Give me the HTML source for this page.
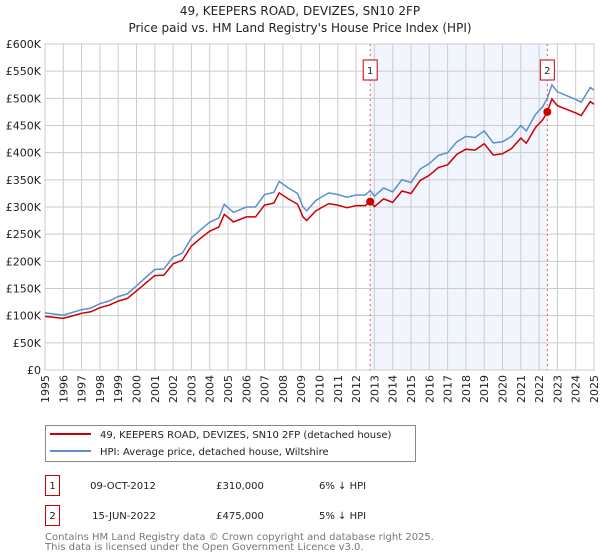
<!DOCTYPE html>
<html><head><meta charset="utf-8"><style>
body{margin:0;background:#fff;width:600px;height:560px;overflow:hidden;font-family:"DejaVu Sans","Liberation Sans",sans-serif}
svg{display:block}
</style></head><body>
<svg id="c" width="600" height="560" xmlns="http://www.w3.org/2000/svg" font-family="DejaVu Sans, Liberation Sans, sans-serif">
<text x="300" y="15" text-anchor="middle" font-size="12" fill="#222">49, KEEPERS ROAD, DEVIZES, SN10 2FP</text>
<text x="300" y="32" text-anchor="middle" font-size="12" fill="#222">Price paid vs. HM Land Registry's House Price Index (HPI)</text>
<g id="grid"></g><g id="series"></g><g id="axes"></g>
<g>
<rect x="45.5" y="425.5" width="370" height="36" fill="#fff" stroke="#888"/>
<line x1="50" y1="434" x2="91" y2="434" stroke="#cc0000" stroke-width="2"/>
<text x="100" y="438" font-size="10" fill="#222">49, KEEPERS ROAD, DEVIZES, SN10 2FP (detached house)</text>
<line x1="50" y1="451" x2="91" y2="451" stroke="#5b8fd0" stroke-width="2"/>
<text x="100" y="455" font-size="10" fill="#222">HPI: Average price, detached house, Wiltshire</text>
</g>
<g font-size="10" fill="#222">
<rect x="45.5" y="475.5" width="14" height="20" fill="#fff" stroke="#cc0000"/>
<text x="52.5" y="489" text-anchor="middle">1</text>
<text x="123" y="489" text-anchor="middle">09-OCT-2012</text>
<text x="240" y="489" text-anchor="middle">£310,000</text>
<text x="319" y="489">6% ↓ HPI</text>
<rect x="45.5" y="505.5" width="14" height="20" fill="#fff" stroke="#cc0000"/>
<text x="52.5" y="519" text-anchor="middle">2</text>
<text x="124" y="519" text-anchor="middle">15-JUN-2022</text>
<text x="240" y="519" text-anchor="middle">£475,000</text>
<text x="319" y="519">5% ↓ HPI</text>
</g>
<text x="45" y="540" font-size="10" fill="#777">Contains HM Land Registry data © Crown copyright and database right 2025.</text>
<text x="45" y="550" font-size="10" fill="#777">This data is licensed under the Open Government Licence v3.0.</text>
</svg>
<script>
const hpiYears=[1995,1995.5,1996,1996.5,1997,1997.5,1998,1998.5,1999,1999.5,2000,2000.5,2001,2001.5,2002,2002.5,2003,2003.5,2004,2004.5,2004.8,2005.3,2006,2006.5,2007,2007.5,2007.8,2008.3,2008.8,2009.1,2009.3,2009.8,2010.5,2011,2011.5,2012,2012.5,2012.77,2013,2013.5,2014,2014.5,2015,2015.5,2016,2016.5,2017,2017.5,2018,2018.5,2019,2019.5,2020,2020.5,2021,2021.3,2021.8,2022.2,2022.45,2022.7,2023,2023.5,2024,2024.3,2024.8,2025];
const hpiValues=[105,103,101,106,111,114,122,127,135,140,155,170,185,186,208,215,243,258,272,280,305,290,300,300,323,327,347,335,325,300,293,312,326,323,318,322,322,330,320,335,328,350,345,370,380,395,400,420,430,428,440,418,420,430,450,440,470,485,500,525,512,505,498,493,520,515];
const saleYears=[2012.77,2022.45];
const salePrices=[310000,475000];
const saleLabels=["1","2"];
const yTicks=[0,50000,100000,150000,200000,250000,300000,350000,400000,450000,500000,550000,600000];
const yTickLabels=["£0","£50K","£100K","£150K","£200K","£250K","£300K","£350K","£400K","£450K","£500K","£550K","£600K"];
const xTicks=[1995,1996,1997,1998,1999,2000,2001,2002,2003,2004,2005,2006,2007,2008,2009,2010,2011,2012,2013,2014,2015,2016,2017,2018,2019,2020,2021,2022,2023,2024,2025];

const X0=45,X1=594,Y0=370,Y1=44;
const xs=y=>X0+(y-1995)/30*(X1-X0);
const ys=v=>Y0-v/600000*(Y0-Y1);
const NS="http://www.w3.org/2000/svg";
function mk(t,a,p){const e=document.createElementNS(NS,t);for(const k in a)e.setAttribute(k,a[k]);p.appendChild(e);return e;}
const grid=document.getElementById('grid'),ser=document.getElementById('series'),ax=document.getElementById('axes');
const sh=mk('rect',{x:xs(saleYears[0]),y:Y1,width:xs(saleYears[1])-xs(saleYears[0]),height:Y0-Y1,fill:'#eef3fc',opacity:0.8},grid);


yTicks.forEach((v,i)=>{
  const l=mk('line',{x1:X0,x2:X1,y1:ys(v),y2:ys(v),stroke:'#ccc','stroke-width':1},grid);
  
  
  const t=mk('text',{x:X0-4,y:ys(v)+4,'text-anchor':'end','font-size':11,fill:'#222'},ax);
  t.textContent=yTickLabels[i];
  
  
});
xTicks.forEach(y=>{
  const l=mk('line',{x1:xs(y),x2:xs(y),y1:Y1,y2:Y0,stroke:'#ccc','stroke-width':1},grid);
  
  
  const t=mk('text',{transform:`translate(${xs(y)+4},${Y0+5}) rotate(-90)`,'text-anchor':'end','font-size':11,fill:'#222'},ax);
  t.textContent=y;
  
  
});
const frame=mk('rect',{x:X0,y:Y1,width:X1-X0,height:Y0-Y1,fill:'none',stroke:'#ccc'},grid);


const hp=hpiYears.map((y,i)=>xs(y).toFixed(1)+','+ys(hpiValues[i]*1000).toFixed(1)).join(' ');
const hl=mk('polyline',{points:hp,fill:'none',stroke:'#5b8fd0','stroke-width':1.5},ser);


function hpiAt(y){for(let i=1;i<hpiYears.length;i++){if(y<=hpiYears[i]){const f=(y-hpiYears[i-1])/(hpiYears[i]-hpiYears[i-1]);return hpiValues[i-1]+f*(hpiValues[i]-hpiValues[i-1]);}}return hpiValues[hpiValues.length-1];}
const r1=salePrices[0]/1000/hpiAt(saleYears[0]),r2=salePrices[1]/1000/hpiAt(saleYears[1]);
const pp=hpiYears.map((y,i)=>{let r;if(y<=saleYears[0])r=r1;else if(y>=saleYears[1])r=r2;else r=r1+(r2-r1)*(y-saleYears[0])/(saleYears[1]-saleYears[0]);return xs(y).toFixed(1)+','+ys(hpiValues[i]*1000*r).toFixed(1);}).join(' ');
const pl=mk('polyline',{points:pp,fill:'none',stroke:'#cc0000','stroke-width':1.5},ser);


saleYears.forEach((y,i)=>{
  const d=mk('line',{x1:xs(y),x2:xs(y),y1:Y1,y2:Y0,stroke:'#e06060','stroke-dasharray':'2,3','stroke-width':1},ser);
  
  
  const c=mk('circle',{cx:xs(y),cy:ys(salePrices[i]),r:4,fill:'#cc0000'},ser);
  
  
  const b=mk('rect',{x:xs(y)-7,y:60,width:14,height:20,fill:'#fff',stroke:'#cc0000'},ser);
  
  
  const t=mk('text',{x:xs(y),y:74,'text-anchor':'middle','font-size':10,fill:'#222'},ser);
  t.textContent=saleLabels[i];
  
  
});
</script>
</body></html>
